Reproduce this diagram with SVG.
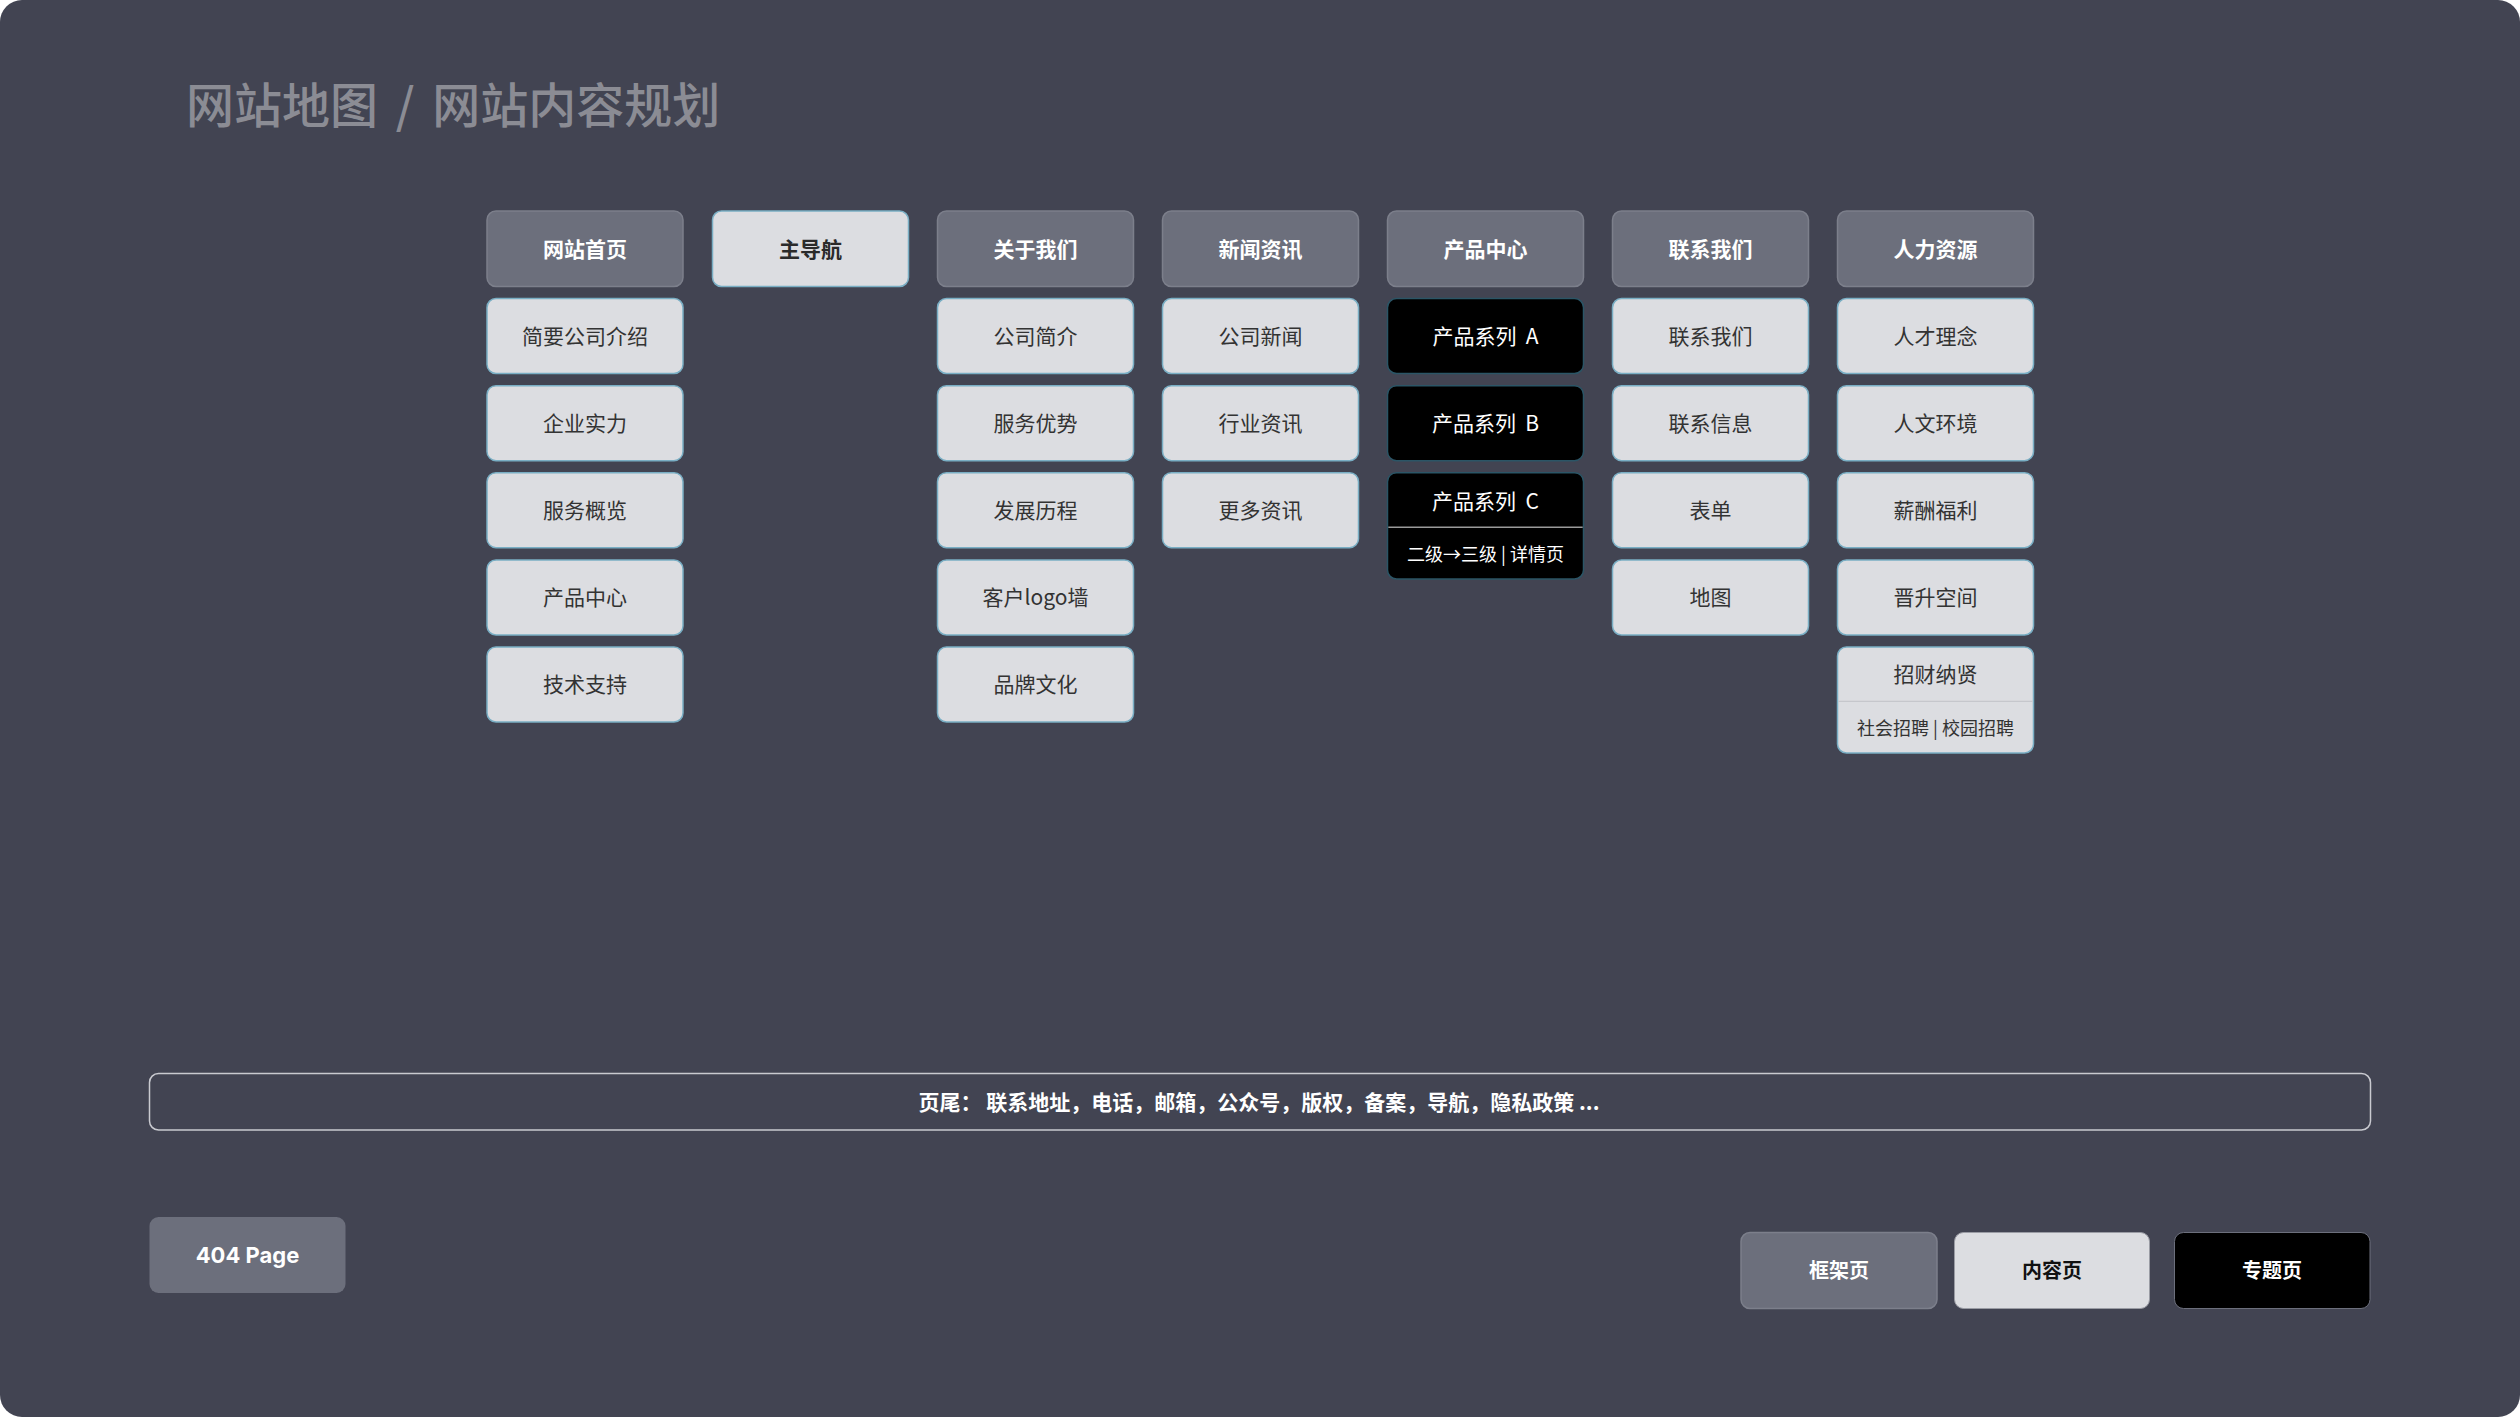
<svg xmlns="http://www.w3.org/2000/svg" width="2520" height="1418" viewBox="0 0 2520 1418">
<style>
text{font-family:"Noto Sans CJK SC","Noto Sans",sans-serif;dominant-baseline:central;text-anchor:middle}
.hd rect{fill:#6c6f7c;stroke:#7c7f8b;stroke-width:1.5}
.hd text{fill:#ffffff;font-size:21px;font-weight:700}
.lt rect{fill:#dcdde1;stroke:#79aec4;stroke-width:1.5}
.lt text{fill:#333333;font-size:21px}
.bk rect{fill:#000000;stroke:#2b5566;stroke-width:1.5}
.bk text{fill:#ffffff;font-size:21px}
.nav text{font-weight:700;fill:#2a2a2a}
text.sub{font-size:18px}
</style>
<rect x="0" y="0" width="2520" height="1417" rx="22" fill="#424452"/>
<text x="186" y="102" style="text-anchor:start;font-size:48px;fill:#8b8c94;font-weight:500">网站地图 <tspan dx="7">/</tspan><tspan dx="7"> 网站内容规划</tspan></text>
<g id="connectors"/>
<!-- Column 0 -->
<g id="n-home" class="hd"><rect x="487" y="211" width="196" height="75.5" rx="9"/><text x="585" y="247.5">网站首页</text></g>
<g id="n-home-1" class="lt"><rect x="487" y="298.5" width="196" height="75" rx="9"/><text x="585" y="335">简要公司介绍</text></g>
<g id="n-home-2" class="lt"><rect x="487" y="385.7" width="196" height="75" rx="9"/><text x="585" y="422">企业实力</text></g>
<g id="n-home-3" class="lt"><rect x="487" y="472.7" width="196" height="75" rx="9"/><text x="585" y="509">服务概览</text></g>
<g id="n-home-4" class="lt"><rect x="487" y="560" width="196" height="75" rx="9"/><text x="585" y="596">产品中心</text></g>
<g id="n-home-5" class="lt"><rect x="487" y="647" width="196" height="75" rx="9"/><text x="585" y="683">技术支持</text></g>
<!-- Column 1 -->
<g id="n-nav" class="lt nav"><rect x="712.5" y="211" width="196" height="75.5" rx="9"/><text x="810.5" y="247.5">主导航</text></g>
<!-- Column 2 -->
<g id="n-about" class="hd"><rect x="937.5" y="211" width="196" height="75.5" rx="9"/><text x="1035.5" y="247.5">关于我们</text></g>
<g id="n-about-1" class="lt"><rect x="937.5" y="298.5" width="196" height="75" rx="9"/><text x="1035.5" y="335">公司简介</text></g>
<g id="n-about-2" class="lt"><rect x="937.5" y="385.7" width="196" height="75" rx="9"/><text x="1035.5" y="422">服务优势</text></g>
<g id="n-about-3" class="lt"><rect x="937.5" y="472.7" width="196" height="75" rx="9"/><text x="1035.5" y="509">发展历程</text></g>
<g id="n-about-4" class="lt"><rect x="937.5" y="560" width="196" height="75" rx="9"/><text x="1035.5" y="596">客户logo墙</text></g>
<g id="n-about-5" class="lt"><rect x="937.5" y="647" width="196" height="75" rx="9"/><text x="1035.5" y="683">品牌文化</text></g>
<!-- Column 3 -->
<g id="n-news" class="hd"><rect x="1162.5" y="211" width="196" height="75.5" rx="9"/><text x="1260.5" y="247.5">新闻资讯</text></g>
<g id="n-news-1" class="lt"><rect x="1162.5" y="298.5" width="196" height="75" rx="9"/><text x="1260.5" y="335">公司新闻</text></g>
<g id="n-news-2" class="lt"><rect x="1162.5" y="385.7" width="196" height="75" rx="9"/><text x="1260.5" y="422">行业资讯</text></g>
<g id="n-news-3" class="lt"><rect x="1162.5" y="472.7" width="196" height="75" rx="9"/><text x="1260.5" y="509">更多资讯</text></g>
<!-- Column 4 -->
<g id="n-prod" class="hd"><rect x="1387.5" y="211" width="196" height="75.5" rx="9"/><text x="1485.5" y="247.5">产品中心</text></g>
<g id="n-prod-a" class="bk"><rect x="1387.5" y="298.5" width="196" height="75" rx="9"/><text x="1485.5" y="335">产品系列&#160;&#160;A</text></g>
<g id="n-prod-b" class="bk"><rect x="1387.5" y="385.7" width="196" height="75" rx="9"/><text x="1485.5" y="422">产品系列&#160;&#160;B</text></g>
<g id="n-prod-c" class="bk"><rect x="1387.5" y="472.7" width="196" height="106.3" rx="9"/><line x1="1388.3" y1="527.3" x2="1582.7" y2="527.3" stroke="#9a9a9a" stroke-width="1.5"/><text x="1485.5" y="500">产品系列&#160;&#160;C</text><text class="sub" x="1485.5" y="553">二级→三级 | 详情页</text></g>
<!-- Column 5 -->
<g id="n-contact" class="hd"><rect x="1612.5" y="211" width="196" height="75.5" rx="9"/><text x="1710.5" y="247.5">联系我们</text></g>
<g id="n-contact-1" class="lt"><rect x="1612.5" y="298.5" width="196" height="75" rx="9"/><text x="1710.5" y="335">联系我们</text></g>
<g id="n-contact-2" class="lt"><rect x="1612.5" y="385.7" width="196" height="75" rx="9"/><text x="1710.5" y="422">联系信息</text></g>
<g id="n-contact-3" class="lt"><rect x="1612.5" y="472.7" width="196" height="75" rx="9"/><text x="1710.5" y="509">表单</text></g>
<g id="n-contact-4" class="lt"><rect x="1612.5" y="560" width="196" height="75" rx="9"/><text x="1710.5" y="596">地图</text></g>
<!-- Column 6 -->
<g id="n-hr" class="hd"><rect x="1837.5" y="211" width="196" height="75.5" rx="9"/><text x="1935.5" y="247.5">人力资源</text></g>
<g id="n-hr-1" class="lt"><rect x="1837.5" y="298.5" width="196" height="75" rx="9"/><text x="1935.5" y="335">人才理念</text></g>
<g id="n-hr-2" class="lt"><rect x="1837.5" y="385.7" width="196" height="75" rx="9"/><text x="1935.5" y="422">人文环境</text></g>
<g id="n-hr-3" class="lt"><rect x="1837.5" y="472.7" width="196" height="75" rx="9"/><text x="1935.5" y="509">薪酬福利</text></g>
<g id="n-hr-4" class="lt"><rect x="1837.5" y="560" width="196" height="75" rx="9"/><text x="1935.5" y="596">晋升空间</text></g>
<g id="n-hr-5" class="lt"><rect x="1837.5" y="647" width="196" height="106" rx="9"/><line x1="1838.3" y1="701.3" x2="2032.7" y2="701.3" stroke="#c6c7cc" stroke-width="1.2"/><text x="1935.5" y="673">招财纳贤</text><text class="sub" x="1935.5" y="727">社会招聘&#160;|&#160;校园招聘</text></g>
<!-- Footer -->
<g id="n-footer"><rect x="149.5" y="1073.5" width="2221" height="56.5" rx="9" fill="none" stroke="#c9cad0" stroke-width="1.5"/><text x="1259" y="1101" style="font-size:21px;font-weight:700;fill:#ffffff">页尾：&#160;联系地址，电话，邮箱，公众号，版权，备案，导航，隐私政策 ...</text></g>
<!-- 404 -->
<g id="n-404"><rect x="149.5" y="1217" width="196" height="76" rx="9" fill="#6c6f7c"/><text x="247.5" y="1255" style="font-family:Inter,'Noto Sans',sans-serif;font-size:22px;font-weight:700;fill:#ffffff">404 Page</text></g>
<!-- Legend -->
<g id="legend-frame" class="hd"><rect x="1741" y="1232.5" width="196" height="76" rx="9"/><text x="1839" y="1269.5" style="font-size:20px">框架页</text></g>
<g id="legend-content"><rect x="1954.5" y="1232.5" width="195" height="76" rx="9" fill="#dcdde1" stroke="#9a9ca4" stroke-width="1"/><text x="2052" y="1269.5" style="font-size:20px;font-weight:700;fill:#111111">内容页</text></g>
<g id="legend-topic"><rect x="2174.5" y="1232.5" width="195.5" height="76" rx="9" fill="#000000" stroke="#6c6f7c" stroke-width="1"/><text x="2272" y="1269.5" style="font-size:20px;font-weight:700;fill:#ffffff">专题页</text></g>
</svg>
